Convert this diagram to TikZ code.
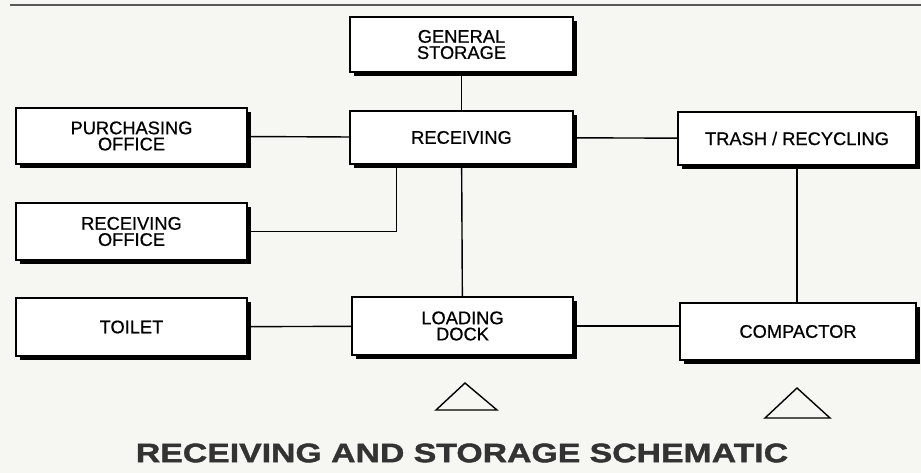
\documentclass[tikz,border=0pt]{standalone}
\usepackage{fontspec}
\setmainfont{Liberation Sans}
\newfontfamily\boxfont[FakeBold=0.6]{Liberation Sans}
\newfontfamily\titlefont[FakeStretch=1.265, FakeBold=1.5]{Liberation Sans Bold}
\usetikzlibrary{shadows}
\definecolor{paper}{RGB}{246,246,242}

\begin{document}
\begin{tikzpicture}[x=0.025cm, y=-0.025cm,
  room/.style={draw, line width=1.1pt, fill=white, align=center, inner sep=0pt,
    font=\boxfont\fontsize{13}{11.5}\selectfont,
    drop shadow={shadow xshift=0.11cm, shadow yshift=-0.11cm, fill=black, opacity=1}},
  link/.style={line width=1pt}]
  \fill[paper] (0,0) rectangle (921,473);
  \useasboundingbox (0,0) rectangle (921,473);
  \draw[gray!70!black, line width=1.2pt] (10,5) -- (921,5);

  % rooms
  \node[room, minimum width=5.575cm, minimum height=1.375cm] (gen)     at (461.5,44.5) {GENERAL\\STORAGE};
  \node[room, minimum width=5.575cm, minimum height=1.325cm] (recv)    at (461.5,137.5) {RECEIVING};
  \node[room, minimum width=5.775cm, minimum height=1.4cm]   (purch)   at (131.5,136) {PURCHASING\\OFFICE};
  \node[room, minimum width=5.95cm,  minimum height=1.325cm] (trash)   at (797,138.5) {TRASH / RECYCLING};
  \node[room, minimum width=5.775cm, minimum height=1.425cm] (roffice) at (131.5,231.5) {RECEIVING\\OFFICE};
  \node[room, minimum width=5.775cm, minimum height=1.45cm]  (toilet)  at (131.5,327) {TOILET};
  \node[room, minimum width=5.525cm, minimum height=1.45cm]  (dock)    at (462.5,326) {LOADING\\DOCK};
  \node[room, minimum width=5.9cm,   minimum height=1.425cm] (comp)    at (798,331.5) {COMPACTOR};

  % connections
  \draw[link] (gen) -- (recv);
  \draw[link] (purch) -- (recv);
  \draw[link] (recv) -- (trash);
  \draw[link] ([xshift=-1.625cm]recv.south) |- (roffice.east);
  \draw[link] (recv) -- (dock);
  \draw[link] (toilet) -- (dock);
  \draw[link] (dock.east) -- (comp.west |- dock.east);
  \draw[link] (trash) -- (trash |- comp.north);

  % access markers
  \draw[line width=1pt] (436,410) -- (465,383) -- (497,410) -- cycle;
  \draw[line width=1pt] (765,418) -- (797,388) -- (830,418) -- cycle;

  \node[font=\titlefont\fontsize{19}{22}\selectfont, text=black!80] (title) at (462,453)
    {RECEIVING AND STORAGE SCHEMATIC};
\end{tikzpicture}
\end{document}
